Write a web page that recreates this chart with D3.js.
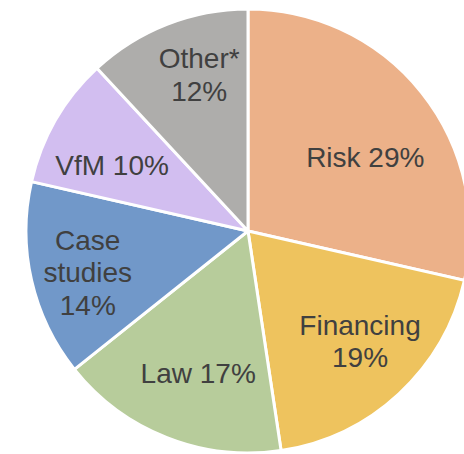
<!DOCTYPE html>
<html><head><meta charset="utf-8">
<script src="https://cdn.jsdelivr.net/npm/d3@7"></script>
<style>html,body{margin:0;padding:0;background:#fff;overflow:hidden}</style>
</head><body>
<svg id="chart" width="464" height="454"></svg>
<script>
const categories = ["Risk", "Financing", "Law", "Case studies", "VfM", "Other*"];
const counts = [12, 8, 7, 6, 4, 5];
const pctLabels = ["29%", "19%", "17%", "14%", "10%", "12%"];
const labelLines = [["Risk 29%"], ["Financing", "19%"], ["Law 17%"], ["Case", "studies", "14%"], ["VfM 10%"], ["Other*", "12%"]];
const colors = ["#ECB189", "#EEC35E", "#B7CC9B", "#7198C9", "#D2BEF0", "#AEADAB"];

const svg = d3.select("#chart");
const cx = 248, cy = 231, r = 222;
const g = svg.append("g").attr("transform", `translate(${cx},${cy})`);

const pie = d3.pie().sort(null).value(d => d)(counts);
const arc = d3.arc().innerRadius(0).outerRadius(r);
const labelArc = d3.arc().innerRadius(150).outerRadius(150);
// small label placement nudges (text layout only)
const nudge = {"Risk": [0, 20], "Financing": [10, 0], "Law": [5, 2], "Case studies": [-14, 8], "VfM": [-6, 9], "Other*": [6, -17]};

g.selectAll("path").data(pie).join("path")
  .attr("d", arc)
  .attr("fill", (d, i) => colors[i])
  .attr("stroke", "#fff")
  .attr("stroke-width", 3)
  .attr("stroke-linejoin", "round");

const lh = 32.5;
g.selectAll("text.lbl").data(pie).join("text")
  .attr("class", "lbl")
  .attr("font-family", "Liberation Sans, Arial, sans-serif")
  .attr("font-size", 28)
  .attr("fill", "#404040")
  .attr("text-anchor", "middle")
  .each(function(d, i) {
    const [x0, y0] = labelArc.centroid(d);
    const [nx, ny] = nudge[categories[i]];
    const x = x0 + nx, y = y0 + ny;
    const lines = labelLines[i];
    const t = d3.select(this);
    lines.forEach((ln, k) => {
      t.append("tspan")
        .attr("x", x)
        .attr("y", y + (k - (lines.length - 1) / 2) * lh + 10)
        .text(ln);
    });
  });
</script>
</body></html>
